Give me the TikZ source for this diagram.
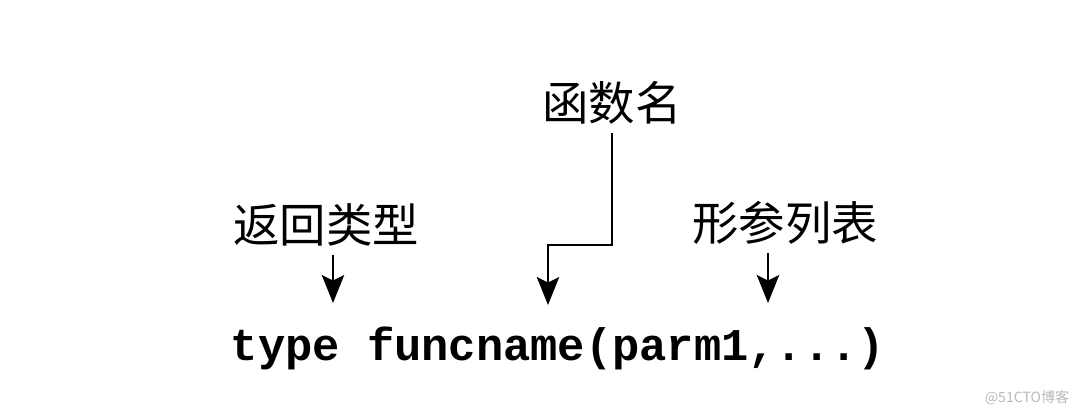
\documentclass[tikz,border=0pt]{standalone}
\usepackage{fontspec}
\newfontfamily\cjk{Noto Sans CJK SC}
\newfontfamily\codefont{Liberation Mono}
\usetikzlibrary{arrows.meta}

\begin{document}
\begin{tikzpicture}[
      x=0.025cm,y=-0.025cm,
      lbl/.style={font=\cjk\fontsize{33}{36}\selectfont,inner sep=0pt},
      arr/.style={-{Stealth[length=0.7cm,width=0.56cm,inset=0.14cm]},
                  line width=1.6pt,shorten <=6pt}]
    \useasboundingbox (0,0) rectangle (1080,415);
    % labels
    \node[lbl] (fn)  at (612,103) {函数名};
    \node[lbl] (ret) at (326,225) {返回类型};
    \node[lbl] (par) at (785,223) {形参列表};
    \node[font=\codefont\bfseries\fontsize{32.3}{36}\selectfont,
          anchor=base,inner sep=0pt] (code) at (558,360)
      {type funcname(parm1,...)};
    % arrow ends just above the code
    \coordinate (tret) at (333,303);
    \coordinate (tfn)  at (548,305);
    \coordinate (tpar) at (768,303);
    \draw[arr] (tret |- ret.south) -- (tret);
    \draw[arr] (tpar |- par.south) -- (tpar);
    \draw[arr] (fn.south) -- (fn.south |- 0,245) -| (tfn);
    \node[font=\cjk\fontsize{10}{12}\selectfont,text=black!28,
          inner sep=0pt] (mark) at (1027,398) {@51CTO博客};
  \end{tikzpicture}
\end{document}
